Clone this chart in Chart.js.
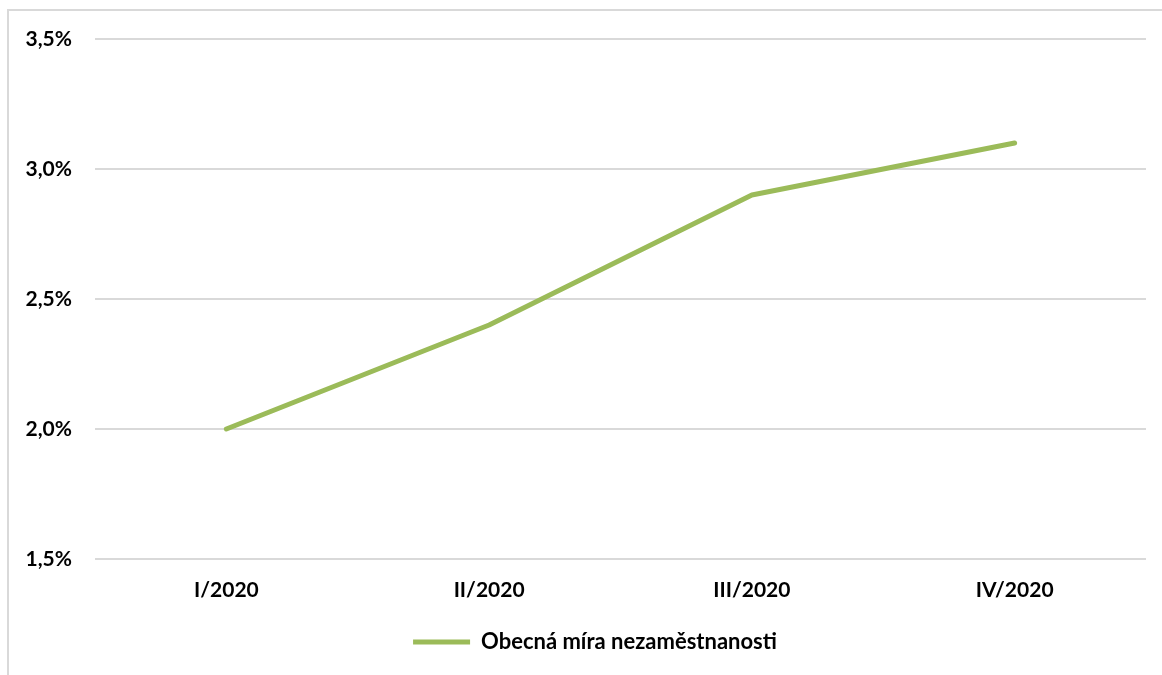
<!DOCTYPE html>
<html>
<head>
<meta charset="utf-8">
<script src="https://cdn.jsdelivr.net/npm/chart.js@4"></script>
<style>
  html, body { margin: 0; padding: 0; background: #fff; overflow: hidden; }
  #frame {
    position: absolute; left: 7px; top: 9px;
    width: 1200px; height: 700px;
    border: 2px solid #d9d9d9;
  }
  #wrap { position: absolute; left: 0; top: 0; width: 1162px; height: 675px; }
</style>
</head>
<body>
<div id="frame"></div>
<div id="wrap"><canvas id="chart"></canvas></div>
<script>
// quarters and unemployment rate (%)
const categories = ['I/2020', 'II/2020', 'III/2020', 'IV/2020'];
const seriesName = 'Obecná míra nezaměstnanosti';
const rateValues = [2.0, 2.4, 2.9, 3.1];
const yTicks = [1.5, 2.0, 2.5, 3.0, 3.5];

const green = '#9bbb59';
const tickFont = { family: 'Lato', size: 21, weight: 'bold' };
const legendFont = { family: 'Lato', size: 22, weight: 'bold' };

// the legend in the original sits a bit right of the canvas centre
const shiftLegend = {
  id: 'shiftLegend',
  afterLayout(chart) {
    if (chart.legend) {
      chart.legend.left += 22;
      chart.legend.right += 22;
    }
  },
};

const ctx = document.getElementById('chart').getContext('2d');
new Chart(ctx, {
  type: 'line',
  data: {
    labels: categories,
    datasets: [{
      label: seriesName,
      data: rateValues,
      borderColor: green,
      backgroundColor: green,
      borderWidth: 5,
      borderCapStyle: 'round',
      borderJoinStyle: 'round',
      pointRadius: 0,
      tension: 0,
    }],
  },
  options: {
    responsive: true,
    maintainAspectRatio: false,
    animation: false,
    layout: { padding: { top: 39, right: 16, left: 0, bottom: 12 } },
    scales: {
      x: {
        offset: true,
        grid: { display: false, drawTicks: false },
        border: { display: false },
        ticks: { color: '#000', font: tickFont, padding: 19 },
        afterFit: (scale) => { scale.height = 62; },
      },
      y: {
        min: yTicks[0],
        max: yTicks[yTicks.length - 1],
        afterBuildTicks: (scale) => { scale.ticks = yTicks.map(v => ({ value: v })); },
        grid: { color: '#d9d9d9', lineWidth: 2, drawTicks: false },
        border: { display: false },
        ticks: {
          color: '#000',
          font: tickFont,
          padding: 23,
          callback: (v) => v.toFixed(1).replace('.', ',') + '%',
        },
        afterFit: (scale) => { scale.width = 95; },
      },
    },
    plugins: {
      legend: {
        position: 'bottom',
        labels: {
          color: '#000',
          font: legendFont,
          usePointStyle: true,
          pointStyle: 'line',
          pointStyleWidth: 57,
          boxHeight: 5,
          padding: 10,
        },
      },
      tooltip: { enabled: false },
    },
  },
  plugins: [shiftLegend],
});
</script>
</body>
</html>
